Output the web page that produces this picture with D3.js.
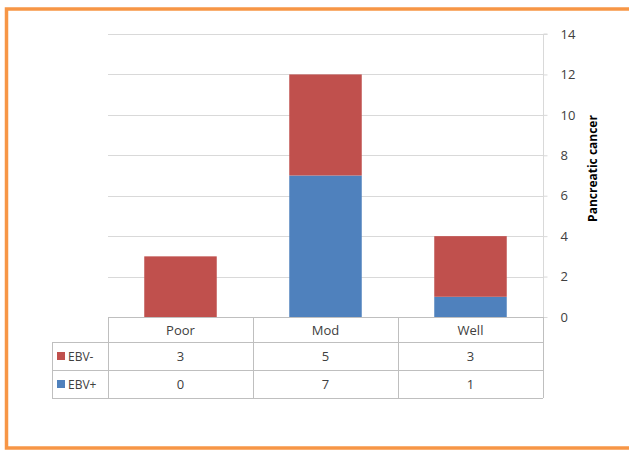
<!DOCTYPE html>
<html>
<head>
<meta charset="utf-8">
<script src="https://cdn.jsdelivr.net/npm/d3@7/dist/d3.min.js"></script>
<style>
  html, body { margin: 0; padding: 0; background: #fff; }
  svg { display: block; }
  text { font-family: "Open Sans", "Liberation Sans", sans-serif; fill: #404040; }
</style>
</head>
<body>
<svg id="chart" width="629" height="451"></svg>
<script>
// Tumour differentiation grades
const categories = ["Poor", "Mod", "Well"];
// Case counts per grade
const ebvNeg = [3, 5, 3];
const ebvPos = [0, 7, 1];
const seriesNames = ["EBV-", "EBV+"];
const yTicks = [0, 2, 4, 6, 8, 10, 12, 14];

const colors = { "EBV-": "#C0504D", "EBV+": "#4F81BD" };
const gridColor = "#D9D9D9";
const tableColor = "#BFBFBF";

const svg = d3.select("#chart");

// Outer frame
svg.append("rect")
  .attr("x", 6.5).attr("y", 9)
  .attr("width", 640).attr("height", 439)
  .attr("fill", "none")
  .attr("stroke", "#F79646")
  .attr("stroke-width", 3.5);

const plot = { left: 108, right: 543, top: 34, bottom: 317 };

const x = d3.scaleBand()
  .domain(categories)
  .range([plot.left, plot.right])
  .paddingInner(0)
  .paddingOuter(0);

const y = d3.scaleLinear()
  .domain([0, 14])
  .range([plot.bottom, plot.top]);

// Horizontal gridlines
svg.append("g")
  .selectAll("line")
  .data(yTicks)
  .join("line")
  .attr("x1", plot.left).attr("x2", plot.right)
  .attr("y1", d => Math.round(y(d)) + 0.5)
  .attr("y2", d => Math.round(y(d)) + 0.5)
  .attr("stroke", gridColor)
  .attr("stroke-width", 1);

// Right value axis
const yAxis = d3.axisRight(y)
  .tickValues(yTicks)
  .tickSize(4)
  .tickPadding(13)
  .tickFormat(d3.format("d"));

const axisG = svg.append("g")
  .attr("transform", `translate(${plot.right + 0.5},0)`)
  .call(yAxis);
axisG.select(".domain").attr("stroke", gridColor).attr("d", `M4,${plot.top}H0V${plot.bottom}`);
axisG.selectAll(".tick line").attr("stroke", gridColor);
axisG.selectAll(".tick text")
  .attr("fill", "#404040")
  .style("font-size", "13px")
  .style("font-family", "\"Open Sans\", \"Liberation Sans\", sans-serif");

// Axis title
svg.append("text")
  .attr("transform", `translate(597,${(plot.top + plot.bottom) / 2 - 7}) rotate(-90)`)
  .attr("text-anchor", "middle")
  .style("font-size", "12px")
  .style("font-weight", "bold")
  .style("fill", "#000")
  .text("Pancreatic cancer");

// Stacked bars: EBV+ at the base, EBV- on top
const rows = categories.map((c, i) => ({ cat: c, "EBV+": ebvPos[i], "EBV-": ebvNeg[i] }));
const stack = d3.stack().keys(["EBV+", "EBV-"]);
const layers = stack(rows);

const barW = x.bandwidth() * 0.5;
svg.append("g")
  .selectAll("g")
  .data(layers)
  .join("g")
  .attr("fill", d => colors[d.key])
  .selectAll("rect")
  .data(d => d)
  .join("rect")
  .attr("x", d => x(d.data.cat) + (x.bandwidth() - barW) / 2)
  .attr("y", d => y(d[1]))
  .attr("width", barW)
  .attr("height", d => y(d[0]) - y(d[1]));

// Data table below the plot
const rowH = [plot.bottom, 342, 370, 398];
const legendLeft = 52;
const tbl = svg.append("g").attr("stroke", tableColor).attr("stroke-width", 1).attr("fill", "none");

// header row (category names) spans only the plot columns
tbl.append("line").attr("x1", plot.left).attr("x2", plot.right)
  .attr("y1", rowH[0] + 0.5).attr("y2", rowH[0] + 0.5);
[1, 2, 3].forEach(r => {
  tbl.append("line").attr("x1", legendLeft).attr("x2", plot.right)
    .attr("y1", rowH[r] + 0.5).attr("y2", rowH[r] + 0.5);
});
// vertical column lines
const colEdges = [plot.left].concat(categories.map(c => x(c) + x.bandwidth()));
colEdges.forEach(cx => {
  tbl.append("line").attr("x1", Math.round(cx) + 0.5).attr("x2", Math.round(cx) + 0.5)
    .attr("y1", rowH[0]).attr("y2", rowH[3]);
});
tbl.append("line").attr("x1", legendLeft + 0.5).attr("x2", legendLeft + 0.5)
  .attr("y1", rowH[1]).attr("y2", rowH[3]);

// header labels
svg.append("g").selectAll("text")
  .data(categories)
  .join("text")
  .attr("x", d => x(d) + x.bandwidth() / 2)
  .attr("y", (rowH[0] + rowH[1]) / 2 + 5)
  .attr("text-anchor", "middle")
  .style("font-size", "13px")
  .text(d => d);

// series rows
const seriesValues = { "EBV-": ebvNeg, "EBV+": ebvPos };
seriesNames.forEach((name, r) => {
  const cy = (rowH[r + 1] + rowH[r + 2]) / 2;
  svg.append("rect")
    .attr("x", legendLeft + 5).attr("y", cy - 4)
    .attr("width", 8).attr("height", 8)
    .attr("fill", colors[name]);
  svg.append("text")
    .attr("x", legendLeft + 16).attr("y", cy + 4.5)
    .style("font-size", "12px")
    .text(name);
  svg.append("g").selectAll("text")
    .data(seriesValues[name])
    .join("text")
    .attr("x", (d, i) => x(categories[i]) + x.bandwidth() / 2)
    .attr("y", cy + 5)
    .attr("text-anchor", "middle")
    .style("font-size", "13px")
    .text(d => d);
});
</script>
</body>
</html>
